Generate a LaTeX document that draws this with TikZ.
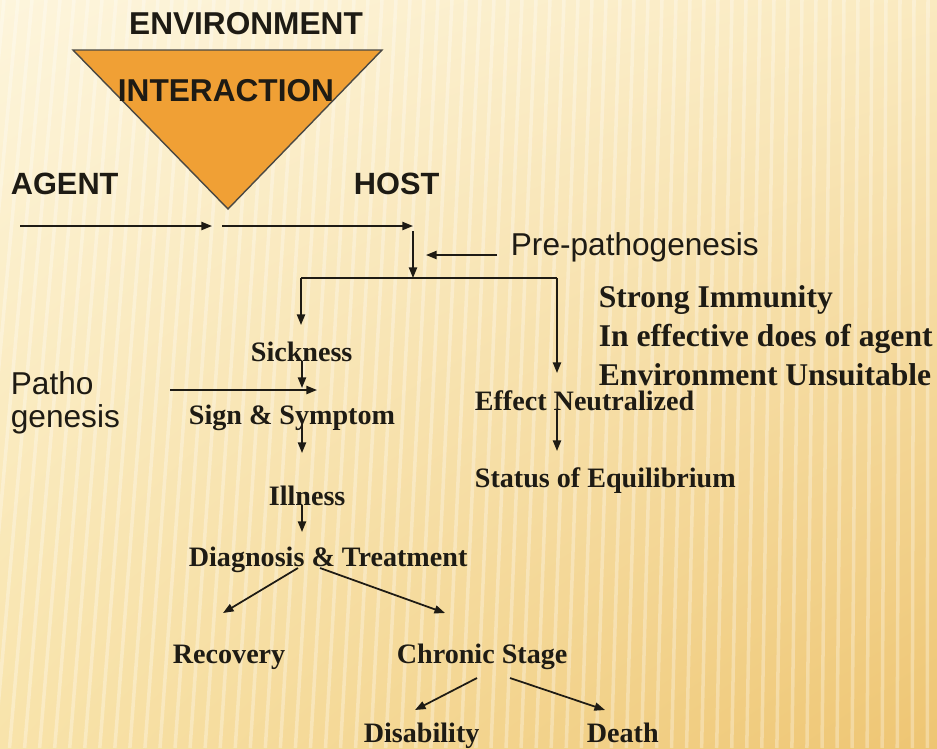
\documentclass[tikz,border=0pt]{standalone}
\usepackage{fontspec}
\setmainfont{Liberation Serif}
\setsansfont{Liberation Sans}
\usetikzlibrary{positioning, arrows.meta, shadings}
\usepackage{xcolor}
\definecolor{ink}{HTML}{1E1B14}
\definecolor{tri}{HTML}{F0A035}
\definecolor{bgul}{HTML}{FDF5DC}
\definecolor{bgur}{HTML}{FAEAC0}
\definecolor{bgll}{HTML}{F8E3AA}
\definecolor{bglr}{HTML}{EEC572}

\begin{document}
\begin{tikzpicture}[x=0.02cm, y=-0.02cm, >={Triangle[length=6pt,width=4.6pt]},
                line width=1pt, color=ink,
                head/.style={font=\sffamily\bfseries\fontsize{17.5}{20}\selectfont, inner sep=0pt, anchor=base west},
                plain/.style={font=\sffamily\fontsize{18}{21}\selectfont, inner sep=0pt, anchor=base west},
                cause/.style={font=\bfseries\fontsize{18}{21}\selectfont, inner sep=0pt, anchor=base west},
                stage/.style={font=\bfseries\fontsize{16}{19}\selectfont, inner sep=0pt, anchor=base west}]

                % background
                \useasboundingbox (0,0) rectangle (937,748);
                \shade[upper left=bgul, upper right=bgur, lower left=bgll, lower right=bglr] (0,0) rectangle (937,748);
                \foreach \x in {-80,-66,...,1000}
                    \draw[white, opacity=0.3, line width=2pt] (\x,0) -- ({\x-70*(1-\x/937)},748);

                % triangle
                \draw[fill=tri, draw=ink!80, line width=0.8pt] (73,50) -- (382,50) -- (228,209) -- cycle;

                \node[head, anchor=base, font=\sffamily\bfseries\fontsize{18}{20}\selectfont] (env) at (246,34) {ENVIRONMENT};
                \node[head, anchor=base, font=\sffamily\bfseries\fontsize{18}{20}\selectfont] (inter) at (226,101) {INTERACTION};
                \node[head] (agent) at (10,194) {AGENT};
                \node[head] (host) at (353,194) {HOST};
                \node[plain] (pre) at (510,255) {Pre-pathogenesis};
                \node[plain] (patho) at (10,394) {Patho};
                \node[plain] (gen) at (10,427) {genesis};

                \node[cause] (imm) at (598,307) {Strong Immunity};
                \node[cause] (dose) at (598,346) {In effective does of agent};
                \node[cause] (envu) at (598,385) {Environment Unsuitable};
                \node[stage] (eff) at (474,410) {Effect Neutralized};
                \node[stage] (equi) at (474,487) {Status of Equilibrium};

                \node[stage] (sick) at (250,361) {Sickness};
                \node[stage] (sign) at (188,424) {Sign \& Symptom};
                \node[stage] (ill) at (268,505) {Illness};
                \node[stage] (diag) at (188,566) {Diagnosis \& Treatment};
                \node[stage] (rec) at (172,663) {Recovery};
                \node[stage] (chron) at (396,663) {Chronic Stage};
                \node[stage] (dis) at (363,742) {Disability};
                \node[stage] (death) at (586,742) {Death};

                % arrow ends
                \coordinate (a0) at (20,226);
                \coordinate (a1) at (212,226);
                \coordinate (h0) at (222,226);
                \coordinate (h1) at (413,226);
                \coordinate (v0) at (413,231);
                \coordinate (split) at (413,278);
                \coordinate (pretip) at (426,255);
                \coordinate (lbr) at (301,278);
                \coordinate (rbr) at (557,278);
                \coordinate (lt) at (301,325);
                \coordinate (rt) at (557,373);
                \coordinate (s1) at (302,388);
                \coordinate (s2) at (302,453);
                \coordinate (s3) at (302,532);
                \coordinate (p0) at (170,390);
                \coordinate (p1) at (317,390);
                \coordinate (e0) at (557,410);
                \coordinate (e1) at (557,451);
                \coordinate (d0) at (298,568);
                \coordinate (d1) at (223,613);
                \coordinate (d2) at (320,568);
                \coordinate (d3) at (445,613);
                \coordinate (c0) at (477,678);
                \coordinate (c1) at (415,710);
                \coordinate (c2) at (510,678);
                \coordinate (c3) at (605,710);

                \path[->]
                (a0) edge (a1)
                (h0) edge (h1)
                (v0) edge (split)
                (pre.base west) edge[shorten <=0.26cm] (pretip)
                (lbr) edge (lt)
                (rbr) edge (rt)
                (sick.base -| s1) edge (s1)
                (sign.base -| s2) edge (s2)
                (ill.base -| s3) edge (s3)
                (p0) edge (p1)
                (e0) edge (e1)
                (d0) edge (d1)
                (d2) edge (d3)
                (c0) edge (c1)
                (c2) edge (c3);
                \draw (lbr) -- (rbr);

            \end{tikzpicture}
\end{document}
